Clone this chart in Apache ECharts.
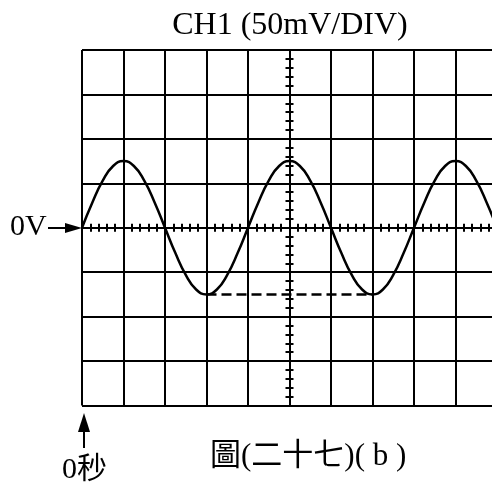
<!DOCTYPE html>
<html>
<head>
<meta charset="utf-8">
<script src="https://cdn.jsdelivr.net/npm/echarts@6/dist/echarts.min.js"></script>
<style>
html, body { margin: 0; background: #fff; }
#scope { width: 492px; height: 485px; }
</style>
</head>
<body>
<div id="scope"></div>
<script>
// time in divisions (centre = 0), voltage in divisions
var traceTime = [-5, -4.75, -4.5, -4.25, -4, -3.75, -3.5, -3.25, -3, -2.75, -2.5, -2.25, -2, -1.75, -1.5, -1.25,
    -1, -0.75, -0.5, -0.25, 0, 0.25, 0.5, 0.75, 1, 1.25, 1.5, 1.75, 2, 2.25, 2.5, 2.75,
    3, 3.25, 3.5, 3.75, 4, 4.25, 4.5, 4.75, 5];
var traceVolt = [0, 0.57, 1.06, 1.39, 1.5, 1.39, 1.06, 0.57, 0, -0.57, -1.06, -1.39, -1.5, -1.39, -1.06, -0.57,
    0, 0.57, 1.06, 1.39, 1.5, 1.39, 1.06, 0.57, 0, -0.57, -1.06, -1.39, -1.5, -1.39, -1.06, -0.57,
    0, 0.57, 1.06, 1.39, 1.5, 1.39, 1.06, 0.57, 0];
var dashTime = [-2, 2];
var dashVolt = [-1.5, -1.5];

var titleText = "CH1 (50mV/DIV)";
var zeroVoltLabel = "0V";
var zeroTimeLabel = "0秒";
var captionText = "圖(二十七)( b )";

var font = "'Liberation Serif', 'Noto Sans CJK TC', serif";
var black = "#000";

function pairs(xs, ys) {
    return xs.map(function (x, i) { return [x, ys[i]]; });
}

function scaleAxis(min, max, pos, inside) {
    return {
        type: "value",
        min: min,
        max: max,
        interval: 1,
        position: pos,
        axisLine: { show: !inside, onZero: true, onZeroAxisIndex: 0, lineStyle: { color: black, width: 2 } },
        axisTick: { show: true, inside: inside, length: 4, lineStyle: { color: black, width: 2 } },
        minorTick: { show: true, splitNumber: 5, length: 4, lineStyle: { color: black, width: 2 } },
        axisLabel: { show: false },
        splitLine: { show: !inside, lineStyle: { color: black, width: 2 } }
    };
}

var chart = echarts.init(document.getElementById("scope"));
chart.setOption({
    animation: false,
    backgroundColor: "#fff",
    title: {
        text: titleText,
        left: 285,
        top: 5,
        textAlign: "center",
        textStyle: { fontFamily: font, fontSize: 32, fontWeight: "normal", color: black }
    },
    // grid runs past the right edge of the picture, as in the scan
    grid: { left: 82, top: 50, width: 415, height: 355.5, outerBoundsMode: "none" },
    xAxis: [scaleAxis(-5, 5, "bottom", false), scaleAxis(-5, 5, "bottom", true)],
    yAxis: [scaleAxis(-4, 4, "left", false), scaleAxis(-4, 4, "left", true)],
    series: [{
        type: "line",
        data: pairs(traceTime, traceVolt),
        smooth: true,
        showSymbol: false,
        lineStyle: { color: black, width: 2.5 }
    }, {
        type: "line",
        data: pairs(dashTime, dashVolt),
        showSymbol: false,
        lineStyle: { color: black, width: 2.5, type: [10, 5] }
    }],
    graphic: [
        { type: "text", left: 10, top: 212, style: { text: zeroVoltLabel, font: "30px " + font, fill: black } },
        { type: "line", shape: { x1: 48, y1: 228, x2: 68, y2: 228 }, style: { stroke: black, lineWidth: 2 } },
        { type: "polygon", shape: { points: [[65, 223], [82, 228], [65, 233]] }, style: { fill: black } },
        { type: "polygon", shape: { points: [[78, 432], [84, 413], [90, 432]] }, style: { fill: black } },
        { type: "line", shape: { x1: 84, y1: 430, x2: 84, y2: 448 }, style: { stroke: black, lineWidth: 2 } },
        { type: "text", left: 62, top: 455, style: { text: zeroTimeLabel, font: "30px " + font, fill: black } },
        { type: "text", left: 210, top: 441, style: { text: captionText, font: "31px " + font, fill: black } }
    ]
});
window.addEventListener("resize", chart.resize);
</script>
</body>
</html>
